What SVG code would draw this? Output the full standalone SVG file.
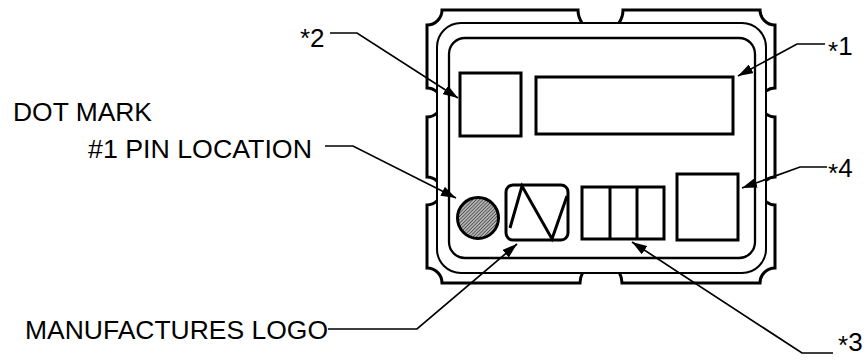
<svg xmlns="http://www.w3.org/2000/svg" width="866" height="361" viewBox="0 0 866 361">
<defs>
<pattern id="hatch" patternUnits="userSpaceOnUse" width="2.4" height="2.4" patternTransform="rotate(45)">
<rect width="2.4" height="2.4" fill="#b4b4b4"/>
<line x1="0" y1="0" x2="0" y2="2.4" stroke="#2a2a2a" stroke-width="1.2"/>
</pattern>
<marker id="ah" viewBox="0 0 15 10" refX="15" refY="5" markerWidth="15" markerHeight="10" markerUnits="userSpaceOnUse" orient="auto">
<path d="M0,0 L15,5 L0,10 Z" fill="#000"/>
</marker>
</defs>
<style>
.t{font-family:"Liberation Sans",Arial,sans-serif;font-size:26px;fill:#000}
.o{fill:none;stroke:#000;stroke-width:3}
.m{fill:none;stroke:#000;stroke-width:2}
.in{fill:none;stroke:#000;stroke-width:2.3}
.b{fill:none;stroke:#000;stroke-width:3}
.ld{fill:none;stroke:#000;stroke-width:1.7;marker-end:url(#ah)}
</style>
<g id="package">
<path class="o" d="M437,92 A14.5,14.5 0 0 0 427,88 L427,25 A15,15 0 0 0 442,10 L578,10 A22.5,22.5 0 0 0 582.1,23"/>
<path class="o" d="M618.9,23 A22.5,22.5 0 0 0 623,10 L760,10 A15,15 0 0 0 775,25 L775,88 A14.5,14.5 0 0 0 766,91.1"/>
<path class="o" d="M766,113.9 A14.5,14.5 0 0 0 775,117 L775,177 A14,14 0 0 0 766,180.3"/>
<path class="o" d="M766,201.7 A14,14 0 0 0 775,205 L775,268 A15,15 0 0 0 760,283 L622,283 A21,21 0 0 0 619.5,273"/>
<path class="o" d="M582.5,273 A21,21 0 0 0 580,283 L442,283 A15,15 0 0 0 427,268 L427,205 A14,14 0 0 0 437,200.8"/>
<path class="o" d="M437,181.2 A14,14 0 0 0 427,177 L427,117 A14.5,14.5 0 0 0 437,113"/>
<rect class="m" x="437" y="23" width="329" height="250" rx="24"/>
<rect class="in" x="449" y="38" width="306" height="220" rx="16"/>
</g>
<g id="box2"><rect class="b" x="460" y="73" width="61" height="63"/></g>
<g id="box1"><rect class="b" x="536" y="77" width="197" height="57"/></g>
<g id="dot"><circle cx="478" cy="218" r="20.5" fill="url(#hatch)" stroke="#000" stroke-width="3"/></g>
<g id="logo">
<rect class="b" x="506" y="185" width="62" height="55" rx="7"/>
<polyline class="b" points="510,228 522,186 552,239 567,196"/>
</g>
<g id="box3">
<rect class="b" x="582" y="187" width="82" height="52"/>
<line class="b" x1="610" y1="187" x2="610" y2="239"/>
<line class="b" x1="637" y1="187" x2="637" y2="239"/>
</g>
<g id="box4"><rect class="b" x="677" y="174" width="61" height="66"/></g>
<g id="connectors">
<path class="ld" d="M330,33 H357 L458,98"/>
<path class="ld" d="M325,146 H353 L456,198"/>
<path class="ld" d="M328,329 H417 L517,244"/>
<path class="ld" d="M825,44 H797 L738,76"/>
<path class="ld" d="M827,167 H800 L742,188"/>
<path class="ld" d="M833,353 H802 L632,242"/>
</g>
<g id="labels">
<text class="t" x="300" y="47">*2</text>
<text class="t" x="13" y="121" textLength="139" lengthAdjust="spacingAndGlyphs">DOT MARK</text>
<text class="t" x="88" y="158" textLength="224" lengthAdjust="spacingAndGlyphs">#1 PIN LOCATION</text>
<text class="t" x="25" y="339" textLength="303" lengthAdjust="spacingAndGlyphs">MANUFACTURES LOGO</text>
<text class="t" x="828" y="55"><tspan dy="5">*</tspan><tspan dy="-5">1</tspan></text>
<text class="t" x="828" y="177"><tspan dy="5">*</tspan><tspan dy="-5">4</tspan></text>
<text class="t" x="838" y="351"><tspan dy="3">*</tspan><tspan dy="-3">3</tspan></text>
</g>
</svg>
